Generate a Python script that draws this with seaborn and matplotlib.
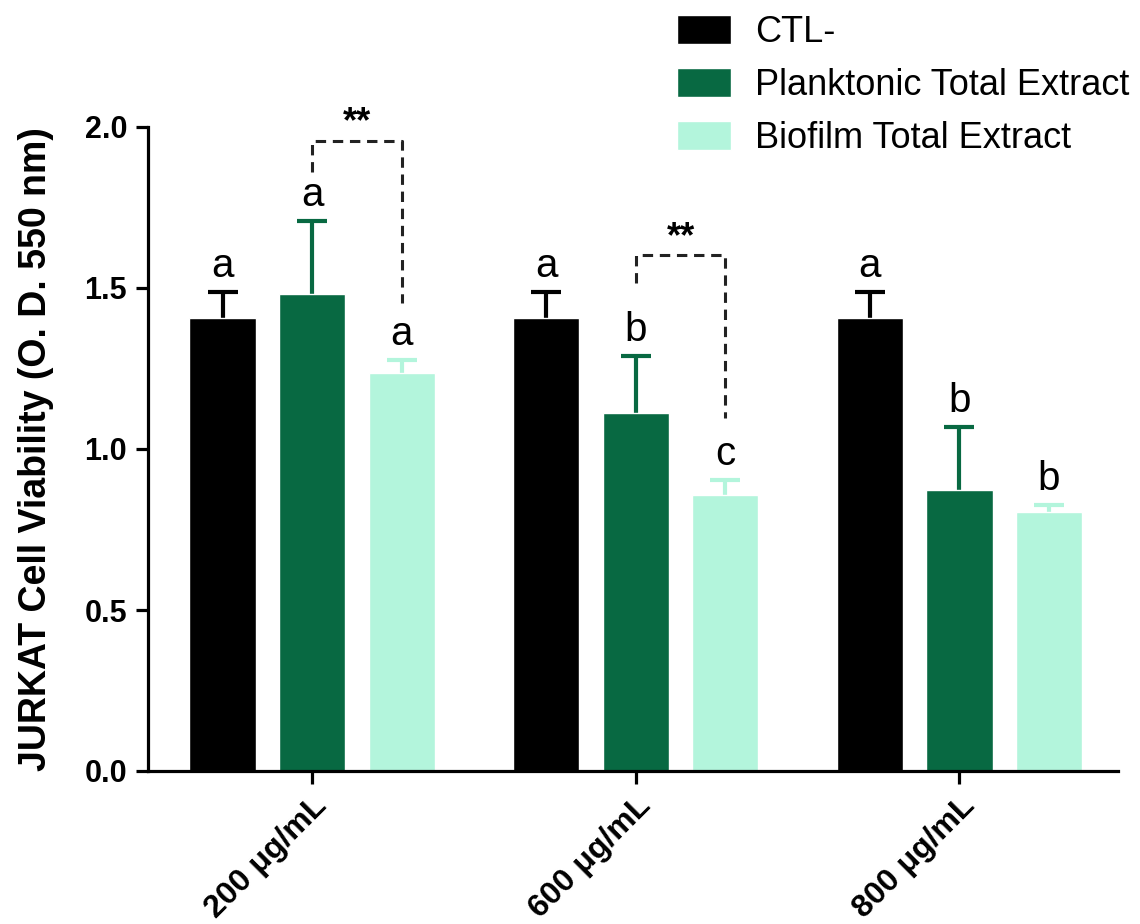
import numpy as np
import pandas as pd
import matplotlib
matplotlib.use("Agg")
import matplotlib.pyplot as plt
import matplotlib.transforms as mtransforms
import seaborn as sns

# ---------------- data ----------------
concentrations = ["200 μg/mL", "600 μg/mL", "800 μg/mL"]
groups = ["CTL-", "Planktonic Total Extract", "Biofilm Total Extract"]
ctl_mean = [1.407, 1.407, 1.407]
ctl_sd = [0.080, 0.080, 0.080]
plank_mean = [1.481, 1.112, 0.873]
plank_sd = [0.227, 0.177, 0.195]
bio_mean = [1.236, 0.857, 0.804]
bio_sd = [0.040, 0.047, 0.022]
ctl_letters = ["a", "a", "a"]
plank_letters = ["a", "b", "b"]
bio_letters = ["a", "c", "b"]
# significance brackets (between Planktonic and Biofilm within a concentration)
sig_conc_index = [0, 1]
sig_top = [1.957, 1.602]
sig_left_bottom = [1.860, 1.516]
sig_right_bottom = [1.453, 1.096]
sig_label = ["**", "**"]
y_ticks = [0.0, 0.5, 1.0, 1.5, 2.0]
y_label = "JURKAT Cell Viability (O. D. 550 nm)"

colors = ["#000000", "#086942", "#B3F5DC"]

means = [ctl_mean, plank_mean, bio_mean]
sds = [ctl_sd, plank_sd, bio_sd]
letters = [ctl_letters, plank_letters, bio_letters]

df = pd.DataFrame({
    "conc": [c for g in groups for c in concentrations],
    "group": [g for g in groups for c in concentrations],
    "value": [v for m in means for v in m],
})

# ---------------- style ----------------
sns.set_style("ticks")
plt.rcParams["font.family"] = ["Liberation Sans", "DejaVu Sans"]
plt.rcParams["text.color"] = "black"
plt.rcParams["axes.labelcolor"] = "black"
plt.rcParams["xtick.color"] = "black"
plt.rcParams["ytick.color"] = "black"

fig = plt.figure(figsize=(11.4, 9.24), dpi=100)
ax = fig.add_axes([148 / 1140, (924 - 771) / 924, (1118 - 148) / 1140, (771 - 127) / 924])

sns.barplot(data=df, x="conc", y="value", hue="group", order=concentrations,
            hue_order=groups, palette=colors, saturation=1, errorbar=None,
            width=0.83, gap=0.26, ax=ax, legend=True)

# error bars and letters, positioned from seaborn's bars
bar_containers = list(ax.containers)
bar_centers = []
for gi, cont in enumerate(bar_containers):
    for p in cont.patches:
        p.set_zorder(2)
    xs = [p.get_x() + p.get_width() / 2 for p in cont.patches]
    bar_centers.append(xs)
    # symmetric bars drawn behind the columns, so only the upper half shows
    ax.errorbar(xs, means[gi], yerr=sds[gi], fmt="none",
                ecolor=colors[gi], elinewidth=3, capsize=11, capthick=3, zorder=1)
    for xi, m, s, lt in zip(xs, means[gi], sds[gi], letters[gi]):
        ax.annotate(lt, (xi, m + s), xytext=(0, 11), textcoords="offset points",
                    ha="center", va="baseline", fontsize=29, color="black")

# significance brackets
for ci, top, lb, rb, lab in zip(sig_conc_index, sig_top, sig_left_bottom,
                                sig_right_bottom, sig_label):
    xl = bar_centers[1][ci]
    xr = bar_centers[2][ci]
    ax.plot([xl, xl, xr, xr], [lb, top, top, rb], color="#222222", lw=2.2,
            linestyle=(0, (3.4, 2.2)), zorder=3)
    ax.annotate(lab, ((xl + xr) / 2, top), xytext=(0, 6), textcoords="offset points",
                ha="center", va="baseline", fontsize=26, fontweight="bold")

# axes
ax.set_xlim(-0.507, 2.49)
ax.set_ylim(0, 2.0)
ax.set_yticks(y_ticks)
ax.set_yticklabels([f"{t:.1f}" for t in y_ticks], fontsize=22, fontweight="bold")
ax.set_xticks(range(len(concentrations)))
ax.set_xticklabels(concentrations, rotation=45, ha="right", rotation_mode="anchor",
                   fontsize=23, fontweight="bold")
shift = mtransforms.ScaledTranslation(-4 / 100, 0, fig.dpi_scale_trans)
for lbl in ax.get_xticklabels():
    lbl.set_transform(lbl.get_transform() + shift)
ax.set_xlabel("")
ax.set_ylabel(y_label, fontsize=27, fontweight="bold", labelpad=22)
for side in ["top", "right"]:
    ax.spines[side].set_visible(False)
for side in ["left", "bottom"]:
    ax.spines[side].set_linewidth(2.3)
    ax.spines[side].set_color("black")
ax.tick_params(axis="both", length=9, width=2.3, color="black", pad=6)
ax.tick_params(axis="x", pad=5)

# legend
handles, labels = ax.get_legend_handles_labels()
ax.get_legend().remove()
fig.legend(handles, labels, loc="upper left", bbox_to_anchor=(0.594, 0.984),
           frameon=False, fontsize=26, handlelength=1.5, handleheight=0.85,
           handletextpad=0.65, labelspacing=0.5, borderpad=0, borderaxespad=0)

fig.savefig("out.png", dpi=100)
